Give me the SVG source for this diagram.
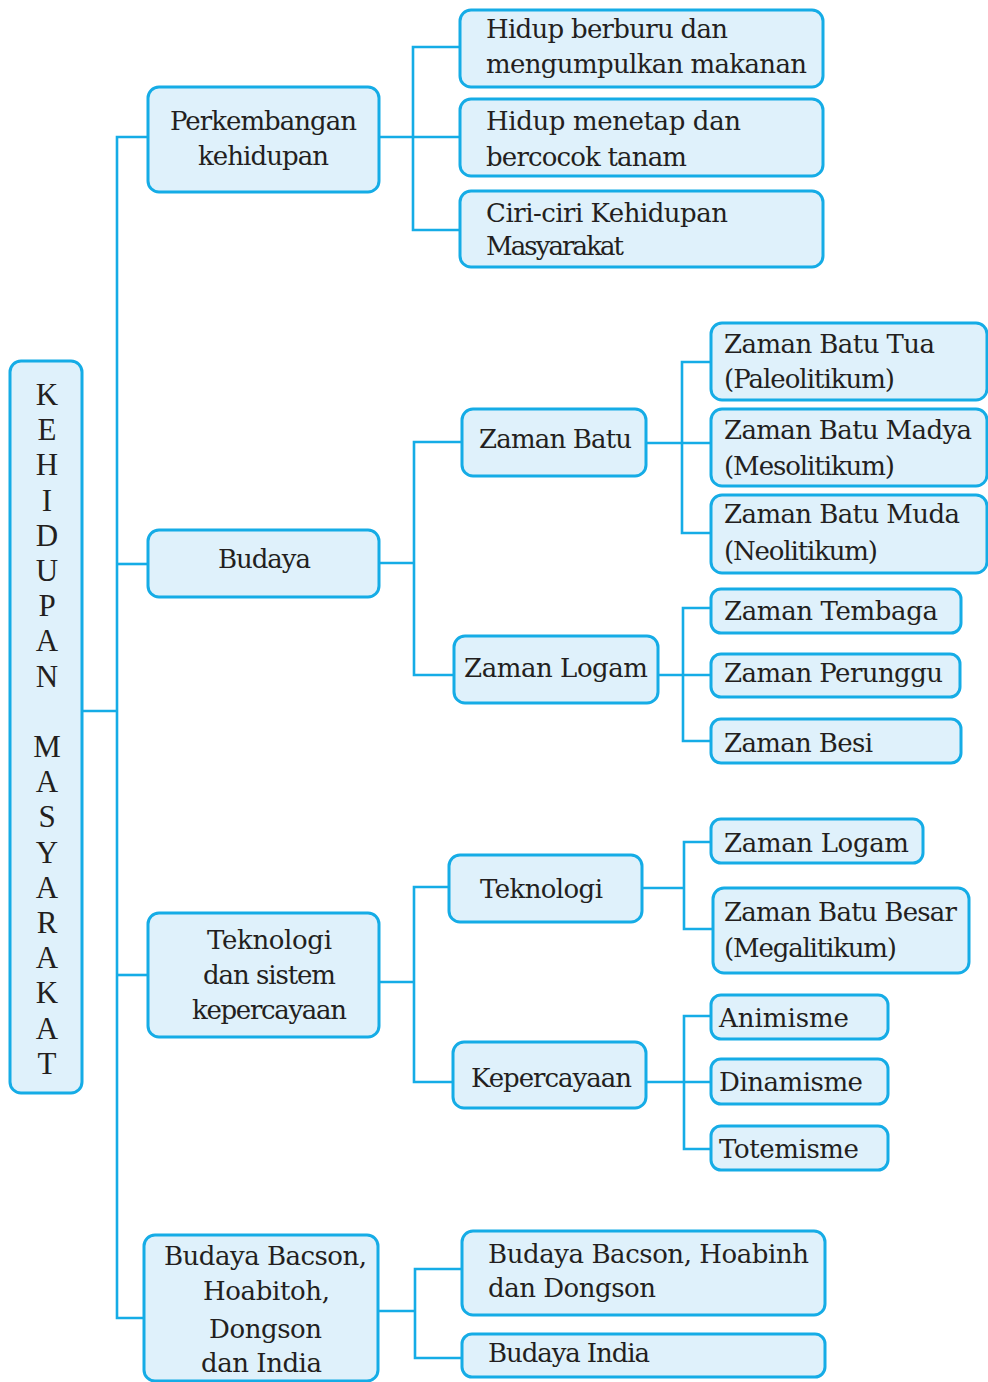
<svg xmlns="http://www.w3.org/2000/svg" width="988" height="1382" viewBox="0 0 988 1382">
<style>
.box{fill:#dff1fb;stroke:#15ace6;stroke-width:3}
.wire{fill:none;stroke:#15ace6;stroke-width:2.6;stroke-linejoin:miter}
text{font-family:"DejaVu Serif","Liberation Serif",serif;font-size:26px;fill:#231f20}
.rootc{font-family:"Liberation Serif","DejaVu Serif",serif;font-size:31px;text-anchor:middle}
</style>
<rect width="988" height="1382" fill="#ffffff"/>

<!-- connectors -->
<g id="connectors" class="wire">
  <path d="M82 711H117"/>
  <path d="M148 137H117V1318H144"/>
  <path d="M117 564H148"/>
  <path d="M117 975H148"/>
  <!-- Perkembangan kehidupan -->
  <path d="M379 137H460"/>
  <path d="M460 47H413V230H460"/>
  <!-- Budaya -->
  <path d="M379 563H414"/>
  <path d="M462 442H414V675H454"/>
  <path d="M646 443H711"/>
  <path d="M711 362H682V533H711"/>
  <path d="M658 675H711"/>
  <path d="M711 608H683V741H711"/>
  <!-- Teknologi dan sistem kepercayaan -->
  <path d="M379 982H414"/>
  <path d="M449 887H414V1082H453"/>
  <path d="M642 888H684"/>
  <path d="M711 842H684V929H713"/>
  <path d="M646 1082H711"/>
  <path d="M711 1016H684V1149H711"/>
  <!-- Budaya Bacson, Hoabitoh, Dongson dan India -->
  <path d="M378 1311H415"/>
  <path d="M462 1269H415V1358H462"/>
</g>

<!-- root -->
<g id="root">
  <rect class="box" x="10" y="361" width="72" height="732" rx="11"/>
  <text class="rootc" x="47" y="405">K</text>
  <text class="rootc" x="47" y="440.2">E</text>
  <text class="rootc" x="47" y="475.4">H</text>
  <text class="rootc" x="47" y="510.6">I</text>
  <text class="rootc" x="47" y="545.8">D</text>
  <text class="rootc" x="47" y="581">U</text>
  <text class="rootc" x="47" y="616.2">P</text>
  <text class="rootc" x="47" y="651.4">A</text>
  <text class="rootc" x="47" y="686.6">N</text>
  <text class="rootc" x="47" y="757">M</text>
  <text class="rootc" x="47" y="792.2">A</text>
  <text class="rootc" x="47" y="827.4">S</text>
  <text class="rootc" x="47" y="862.6">Y</text>
  <text class="rootc" x="47" y="897.8">A</text>
  <text class="rootc" x="47" y="933">R</text>
  <text class="rootc" x="47" y="968.2">A</text>
  <text class="rootc" x="47" y="1003.4">K</text>
  <text class="rootc" x="47" y="1038.6">A</text>
  <text class="rootc" x="47" y="1073.8">T</text>
</g>

<!-- level 1 -->
<g id="perkembangan">
  <rect class="box" x="148" y="87" width="231" height="105" rx="11"/>
  <text x="170" y="130" textLength="187">Perkembangan</text>
  <text x="198" y="165" textLength="131">kehidupan</text>
</g>
<g id="budaya">
  <rect class="box" x="148" y="530" width="231" height="67" rx="11"/>
  <text x="218" y="568" textLength="93">Budaya</text>
</g>
<g id="teknologi-sistem">
  <rect class="box" x="148" y="913" width="231" height="124" rx="11"/>
  <text x="207" y="949" textLength="125">Teknologi</text>
  <text x="203" y="984" textLength="133">dan sistem</text>
  <text x="192" y="1019" textLength="155">kepercayaan</text>
</g>
<g id="bacson-india">
  <rect class="box" x="144" y="1235" width="234" height="146" rx="11"/>
  <text x="164" y="1265" textLength="203">Budaya Bacson,</text>
  <text x="203" y="1300" textLength="127">Hoabitoh,</text>
  <text x="209" y="1338" textLength="113">Dongson</text>
  <text x="201" y="1372" textLength="121">dan India</text>
</g>

<!-- perkembangan kehidupan children -->
<g id="berburu">
  <rect class="box" x="460" y="10" width="363" height="77" rx="11"/>
  <text x="486" y="38" textLength="242">Hidup berburu dan</text>
  <text x="486" y="73" textLength="321">mengumpulkan makanan</text>
</g>
<g id="menetap">
  <rect class="box" x="460" y="99" width="363" height="77" rx="11"/>
  <text x="486" y="130" textLength="255">Hidup menetap dan</text>
  <text x="486" y="166" textLength="201">bercocok tanam</text>
</g>
<g id="ciri-ciri">
  <rect class="box" x="460" y="191" width="363" height="76" rx="11"/>
  <text x="486" y="222" textLength="242">Ciri-ciri Kehidupan</text>
  <text x="486" y="255" textLength="138">Masyarakat</text>
</g>

<!-- budaya children -->
<g id="zaman-batu">
  <rect class="box" x="462" y="409" width="184" height="67" rx="11"/>
  <text x="479" y="448" textLength="153">Zaman Batu</text>
</g>
<g id="zaman-logam">
  <rect class="box" x="454" y="636" width="204" height="67" rx="11"/>
  <text x="464" y="677" textLength="184">Zaman Logam</text>
</g>
<g id="batu-tua">
  <rect class="box" x="711" y="323" width="276" height="77" rx="11"/>
  <text x="724" y="353" textLength="211">Zaman Batu Tua</text>
  <text x="724" y="388" textLength="171">(Paleolitikum)</text>
</g>
<g id="batu-madya">
  <rect class="box" x="711" y="409" width="276" height="77" rx="11"/>
  <text x="724" y="439" textLength="248">Zaman Batu Madya</text>
  <text x="724" y="475" textLength="171">(Mesolitikum)</text>
</g>
<g id="batu-muda">
  <rect class="box" x="711" y="495" width="276" height="78" rx="11"/>
  <text x="724" y="523" textLength="236">Zaman Batu Muda</text>
  <text x="724" y="560" textLength="154">(Neolitikum)</text>
</g>
<g id="tembaga">
  <rect class="box" x="711" y="589" width="250" height="44" rx="10"/>
  <text x="724" y="620" textLength="214">Zaman Tembaga</text>
</g>
<g id="perunggu">
  <rect class="box" x="711" y="654" width="249" height="43" rx="10"/>
  <text x="724" y="682" textLength="219">Zaman Perunggu</text>
</g>
<g id="besi">
  <rect class="box" x="711" y="719" width="250" height="44" rx="10"/>
  <text x="724" y="752" textLength="149">Zaman Besi</text>
</g>

<!-- teknologi dan sistem kepercayaan children -->
<g id="teknologi">
  <rect class="box" x="449" y="855" width="193" height="67" rx="11"/>
  <text x="480" y="898" textLength="123">Teknologi</text>
</g>
<g id="kepercayaan">
  <rect class="box" x="453" y="1042" width="193" height="66" rx="11"/>
  <text x="471" y="1087" textLength="161">Kepercayaan</text>
</g>
<g id="logam-tek">
  <rect class="box" x="711" y="819" width="212" height="44" rx="10"/>
  <text x="724" y="852" textLength="185">Zaman Logam</text>
</g>
<g id="batu-besar">
  <rect class="box" x="713" y="888" width="256" height="85" rx="11"/>
  <text x="724" y="921" textLength="233">Zaman Batu Besar</text>
  <text x="724" y="957" textLength="173">(Megalitikum)</text>
</g>
<g id="animisme">
  <rect class="box" x="711" y="995" width="177" height="44" rx="10"/>
  <text x="719" y="1027" textLength="130">Animisme</text>
</g>
<g id="dinamisme">
  <rect class="box" x="711" y="1059" width="177" height="45" rx="10"/>
  <text x="719" y="1091" textLength="144">Dinamisme</text>
</g>
<g id="totemisme">
  <rect class="box" x="711" y="1126" width="177" height="44" rx="10"/>
  <text x="719" y="1158" textLength="140">Totemisme</text>
</g>

<!-- bacson children -->
<g id="bacson-hoabinh">
  <rect class="box" x="462" y="1231" width="363" height="84" rx="11"/>
  <text x="488" y="1263" textLength="321">Budaya Bacson, Hoabinh</text>
  <text x="488" y="1297" textLength="168">dan Dongson</text>
</g>
<g id="india">
  <rect class="box" x="462" y="1334" width="363" height="43" rx="10"/>
  <text x="488" y="1362" textLength="162">Budaya India</text>
</g>
</svg>
